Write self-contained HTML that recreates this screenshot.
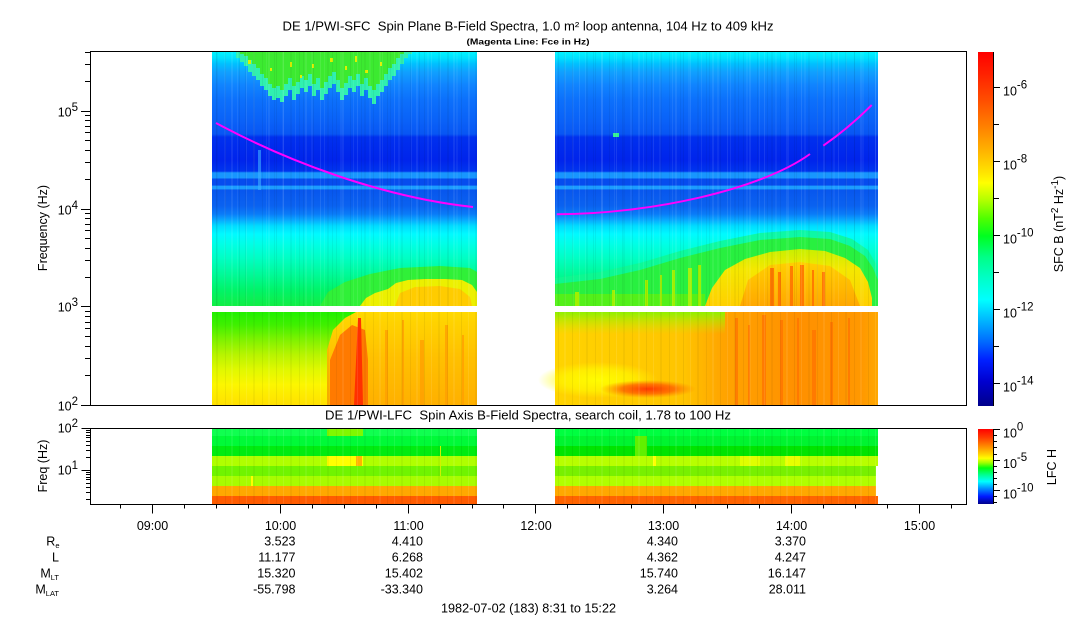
<!DOCTYPE html>
<html><head><meta charset="utf-8"><style>html,body{margin:0;padding:0;background:#fff;overflow:hidden}svg{display:block}</style></head>
<body>
<svg xmlns="http://www.w3.org/2000/svg" width="1083" height="620" viewBox="0 0 1083 620" font-family="'Liberation Sans', Arial, sans-serif" font-size="12.5" fill="#000">
<defs>
 <linearGradient id="bgU" gradientUnits="userSpaceOnUse" x1="0" y1="52" x2="0" y2="306">
  <stop offset="0" stop-color="#00f4ff"/>
  <stop offset=".024" stop-color="#00e0ff"/>
  <stop offset=".047" stop-color="#00c0ff"/>
  <stop offset=".079" stop-color="#10a0ff"/>
  <stop offset=".130" stop-color="#1084ff"/>
  <stop offset=".189" stop-color="#0c70fc"/>
  <stop offset=".268" stop-color="#0a62f8"/>
  <stop offset=".323" stop-color="#0856f4"/>
  <stop offset=".335" stop-color="#0030ee"/>
  <stop offset=".425" stop-color="#0024ec"/>
  <stop offset=".469" stop-color="#0034ee"/>
  <stop offset=".476" stop-color="#1896fe"/>
  <stop offset=".496" stop-color="#1896fe"/>
  <stop offset=".500" stop-color="#064cee"/>
  <stop offset=".524" stop-color="#064cee"/>
  <stop offset=".528" stop-color="#1c9cff"/>
  <stop offset=".539" stop-color="#1c9cff"/>
  <stop offset=".543" stop-color="#0856ee"/>
  <stop offset=".606" stop-color="#0a62f0"/>
  <stop offset=".638" stop-color="#0a7cf8"/>
  <stop offset=".661" stop-color="#08a8ff"/>
  <stop offset=".685" stop-color="#00dcff"/>
  <stop offset=".717" stop-color="#00faff"/>
  <stop offset=".756" stop-color="#00ffe6"/>
  <stop offset=".811" stop-color="#00ffc4"/>
  <stop offset=".874" stop-color="#00fa98"/>
  <stop offset=".937" stop-color="#00f468"/>
  <stop offset="1" stop-color="#10ee44"/>
 </linearGradient>
 <linearGradient id="lowL" gradientUnits="userSpaceOnUse" x1="0" y1="312" x2="0" y2="405">
  <stop offset="0" stop-color="#20f000"/>
  <stop offset=".14" stop-color="#40f000"/>
  <stop offset=".30" stop-color="#80f200"/>
  <stop offset=".46" stop-color="#b8f400"/>
  <stop offset=".62" stop-color="#e0f800"/>
  <stop offset=".78" stop-color="#fcf600"/>
  <stop offset="1" stop-color="#ffe000"/>
 </linearGradient>
 <linearGradient id="lowR" gradientUnits="userSpaceOnUse" x1="0" y1="312" x2="0" y2="405">
  <stop offset="0" stop-color="#ffd800"/>
  <stop offset=".5" stop-color="#ffc000"/>
  <stop offset="1" stop-color="#ffb000"/>
 </linearGradient>
 <linearGradient id="low2" gradientUnits="userSpaceOnUse" x1="555" y1="0" x2="878" y2="0">
  <stop offset="0" stop-color="#ffd400"/>
  <stop offset=".40" stop-color="#ffc400"/>
  <stop offset=".52" stop-color="#ffa400"/>
  <stop offset=".75" stop-color="#ff9000"/>
  <stop offset=".95" stop-color="#ff9800"/>
  <stop offset="1" stop-color="#ffa800"/>
 </linearGradient>
 <linearGradient id="topG" gradientUnits="userSpaceOnUse" x1="0" y1="312" x2="0" y2="334">
  <stop offset="0" stop-color="#90f000" stop-opacity="1"/>
  <stop offset="1" stop-color="#c0f000" stop-opacity="0"/>
 </linearGradient>
 <radialGradient id="yel" cx=".5" cy=".5" r=".5">
  <stop offset="0" stop-color="#ffff00" stop-opacity=".95"/>
  <stop offset=".6" stop-color="#ffff00" stop-opacity=".6"/>
  <stop offset="1" stop-color="#ffff00" stop-opacity="0"/>
 </radialGradient>
 <radialGradient id="redp" cx=".5" cy=".5" r=".5">
  <stop offset="0" stop-color="#ff3800" stop-opacity="1"/>
  <stop offset=".55" stop-color="#ff6000" stop-opacity=".8"/>
  <stop offset="1" stop-color="#ff8000" stop-opacity="0"/>
 </radialGradient>
 <linearGradient id="domeY" gradientUnits="userSpaceOnUse" x1="0" y1="249" x2="0" y2="306">
  <stop offset="0" stop-color="#c8f000"/>
  <stop offset=".35" stop-color="#f4e800"/>
  <stop offset="1" stop-color="#ffd000"/>
 </linearGradient>
 <linearGradient id="domeO" gradientUnits="userSpaceOnUse" x1="0" y1="262" x2="0" y2="306">
  <stop offset="0" stop-color="#ffd000"/>
  <stop offset="1" stop-color="#ffa800"/>
 </linearGradient>
 <linearGradient id="cbS" gradientUnits="userSpaceOnUse" x1="0" y1="52" x2="0" y2="406">
  <stop offset="0" stop-color="#ff0000"/>
  <stop offset=".06" stop-color="#ff2000"/>
  <stop offset=".14" stop-color="#ff5000"/>
  <stop offset=".21" stop-color="#ff8000"/>
  <stop offset=".28" stop-color="#ffb400"/>
  <stop offset=".34" stop-color="#ffe400"/>
  <stop offset=".37" stop-color="#ffff00"/>
  <stop offset=".42" stop-color="#b0ff00"/>
  <stop offset=".47" stop-color="#50ff00"/>
  <stop offset=".52" stop-color="#00ff20"/>
  <stop offset=".58" stop-color="#00ff88"/>
  <stop offset=".64" stop-color="#00ffc8"/>
  <stop offset=".70" stop-color="#00ffff"/>
  <stop offset=".76" stop-color="#00b4ff"/>
  <stop offset=".82" stop-color="#0068ff"/>
  <stop offset=".87" stop-color="#0020ff"/>
  <stop offset=".93" stop-color="#0000d0"/>
  <stop offset="1" stop-color="#00008a"/>
 </linearGradient>
 <linearGradient id="cbL" gradientUnits="userSpaceOnUse" x1="0" y1="429" x2="0" y2="504">
  <stop offset="0" stop-color="#ff0000"/>
  <stop offset=".12" stop-color="#ff4000"/>
  <stop offset=".24" stop-color="#ff9000"/>
  <stop offset=".34" stop-color="#ffd800"/>
  <stop offset=".39" stop-color="#ffff00"/>
  <stop offset=".45" stop-color="#a0ff00"/>
  <stop offset=".52" stop-color="#00ff10"/>
  <stop offset=".61" stop-color="#00ff90"/>
  <stop offset=".70" stop-color="#00ffff"/>
  <stop offset=".80" stop-color="#0088ff"/>
  <stop offset=".90" stop-color="#0018ff"/>
  <stop offset="1" stop-color="#00008a"/>
 </linearGradient>
 <pattern id="str" width="37" height="10" patternUnits="userSpaceOnUse">
  <rect x="3" y="0" width="1" height="10" fill="#000" opacity=".05"/>
  <rect x="9" y="0" width="2" height="10" fill="#fff" opacity=".07"/>
  <rect x="17" y="0" width="1" height="10" fill="#000" opacity=".06"/>
  <rect x="24" y="0" width="1" height="10" fill="#fff" opacity=".09"/>
  <rect x="31" y="0" width="2" height="10" fill="#000" opacity=".04"/>
 </pattern>
 <pattern id="str2" width="29" height="10" patternUnits="userSpaceOnUse">
  <rect x="5" y="0" width="1" height="10" fill="#fff" opacity=".07"/>
  <rect x="13" y="0" width="1" height="10" fill="#000" opacity=".05"/>
  <rect x="21" y="0" width="2" height="10" fill="#fff" opacity=".05"/>
 </pattern>
</defs>

<!-- Titles -->
<text x="528" y="30.5" text-anchor="middle" textLength="491" lengthAdjust="spacingAndGlyphs">DE 1/PWI-SFC&#160; Spin Plane B-Field Spectra, 1.0 m² loop antenna, 104 Hz to 409 kHz</text>
<text x="528" y="44.5" text-anchor="middle" font-size="8" font-weight="bold" textLength="123" lengthAdjust="spacingAndGlyphs">(Magenta Line: Fce in Hz)</text>
<text x="528" y="419.5" text-anchor="middle" textLength="406" lengthAdjust="spacingAndGlyphs">DE 1/PWI-LFC&#160; Spin Axis B-Field Spectra, search coil, 1.78 to 100 Hz</text>

<!-- ===== Main spectrogram segment 1 ===== -->
<rect x="212" y="52" width="265" height="254" fill="url(#bgU)"/>
<path d="M236,52 V58 H240 V62 H244 V66 H248 V72 H252 V76 H256 V80 H260 V86 H264 V90 H268 V96 H272 V100 H276 V98 H280 V102 H284 V96 H288 V90 H292 V100 H296 V94 H300 V88 H304 V92 H308 V86 H312 V96 H316 V90 H320 V100 H324 V94 H328 V88 H332 V84 H336 V92 H340 V100 H344 V95 H348 V88 H352 V92 H356 V86 H360 V96 H364 V90 H368 V98 H372 V104 H376 V96 H380 V92 H384 V86 H388 V80 H392 V76 H396 V70 H400 V64 H404 V58 H408 V54 H412 V52 Z" fill="#30f0b0"/>
<path d="M240,52 V54 H244 V56 H248 V60 H252 V64 H256 V68 H260 V74 H264 V78 H268 V84 H272 V88 H276 V86 H280 V90 H284 V84 H288 V78 H292 V86 H296 V82 H300 V76 H304 V80 H308 V74 H312 V84 H316 V78 H320 V88 H324 V82 H328 V76 H332 V72 H336 V80 H340 V88 H344 V83 H348 V76 H352 V80 H356 V74 H360 V84 H364 V78 H368 V86 H372 V90 H376 V84 H380 V80 H384 V74 H388 V68 H392 V64 H396 V58 H400 V54 H404 V52 Z" fill="#3cea30"/>
<g fill="#e0f000">
 <rect x="248" y="60" width="3" height="4"/><rect x="290" y="62" width="2" height="5"/>
 <rect x="330" y="58" width="3" height="4"/><rect x="355" y="56" width="2" height="6"/>
 <rect x="365" y="70" width="3" height="3"/><rect x="300" y="75" width="2" height="3"/>
 <rect x="345" y="66" width="2" height="4"/><rect x="270" y="68" width="2" height="3"/>
 <rect x="380" y="62" width="2" height="4"/><rect x="312" y="64" width="2" height="4"/>
</g>
<rect x="258" y="150" width="3" height="40" fill="#40b0ff" opacity=".6"/>
<path d="M320,306 L328,292 L345,282 L370,274 L400,268 L440,266 L470,268 L477,272 L477,306 Z" fill="#30f038"/>
<path d="M360,306 L366,298 L375,293 L388,289 L396,283 L408,280 L425,279 L445,279 L462,280 L472,285 L477,292 L477,306 Z" fill="#ecf000"/>
<path d="M395,306 L400,293 L415,287 L440,286 L460,289 L470,297 L472,306 Z" fill="#ffcc00"/>
<!-- lower part seg1 -->
<rect x="212" y="312" width="265" height="93" fill="url(#lowL)"/>
<path d="M356,312 L477,312 L477,405 L327,405 L327,350 L333,330 L345,318 Z" fill="url(#lowR)"/>
<path d="M330,405 L330,360 L340,335 L352,325 L365,330 L368,360 L368,405 Z" fill="#ff7a00"/>
<path d="M358,318 L361,318 L363,405 L354,405 Z" fill="#ff3000"/>
<g fill="#ffa000" opacity=".8">
 <rect x="385" y="330" width="3" height="75"/><rect x="402" y="320" width="2" height="85"/>
 <rect x="420" y="340" width="4" height="65"/><rect x="445" y="325" width="3" height="80"/>
 <rect x="462" y="335" width="2" height="70"/>
</g>
<rect x="212" y="52" width="265" height="254" fill="url(#str)"/>
<rect x="212" y="52" width="265" height="254" fill="url(#str2)"/>
<rect x="212" y="312" width="265" height="93" fill="url(#str)"/>

<!-- ===== Main spectrogram segment 2 ===== -->
<rect x="555" y="52" width="323" height="254" fill="url(#bgU)"/>
<rect x="613" y="133" width="6" height="4" fill="#30f090"/>
<path d="M555,306 L555,278 L600,272 L640,263 L680,251 L720,241 L760,233 L800,230 L830,232 L852,239 L868,250 L876,264 L878,276 L878,306 Z" fill="#10f890" opacity=".8"/>
<path d="M555,306 L555,284 L600,279 L640,270 L680,258 L720,248 L760,240 L800,237 L830,239 L850,246 L865,256 L873,268 L878,280 L878,306 Z" fill="#28f040"/>
<rect x="555" y="294" width="150" height="12" fill="#70f000" opacity=".6"/>
<g fill="#a0f000">
 <rect x="645" y="280" width="3" height="26"/><rect x="660" y="275" width="2" height="31"/>
 <rect x="672" y="270" width="3" height="36"/><rect x="688" y="268" width="4" height="38"/>
 <rect x="698" y="265" width="3" height="41"/><rect x="575" y="292" width="4" height="14"/>
 <rect x="612" y="290" width="3" height="16"/>
</g>
<path d="M705,306 L712,288 L725,270 L745,259 L770,252 L800,249 L825,251 L845,258 L860,268 L868,282 L872,298 L872,306 Z" fill="url(#domeY)"/>
<path d="M740,306 L748,280 L770,265 L800,262 L830,266 L850,280 L860,306 Z" fill="url(#domeO)"/>
<g fill="#ff7400" opacity=".9">
 <rect x="770" y="268" width="4" height="38"/><rect x="778" y="272" width="3" height="34"/>
 <rect x="790" y="266" width="3" height="40"/><rect x="800" y="265" width="4" height="41"/>
 <rect x="812" y="270" width="2" height="36"/><rect x="822" y="272" width="3" height="34"/>
</g>
<!-- lower part seg2 -->
<rect x="555" y="312" width="323" height="93" fill="url(#low2)"/>
<rect x="555" y="312" width="170" height="22" fill="url(#topG)"/>
<ellipse cx="598" cy="380" rx="60" ry="18" fill="url(#yel)"/>
<ellipse cx="648" cy="389" rx="48" ry="9" fill="url(#redp)"/>
<g fill="#ff7000" opacity=".7">
 <rect x="735" y="318" width="3" height="87"/><rect x="748" y="325" width="2" height="80"/>
 <rect x="762" y="315" width="4" height="90"/><rect x="780" y="320" width="3" height="85"/>
 <rect x="797" y="318" width="2" height="87"/><rect x="812" y="330" width="4" height="75"/>
 <rect x="830" y="322" width="3" height="83"/><rect x="848" y="318" width="2" height="87"/>
</g>
<rect x="555" y="52" width="323" height="254" fill="url(#str)"/>
<rect x="555" y="52" width="323" height="254" fill="url(#str2)"/>
<rect x="555" y="312" width="323" height="93" fill="url(#str)"/>

<!-- magenta Fce lines -->
<path d="M216,123 C285,160 380,197 473,207" fill="none" stroke="#ff00ff" stroke-width="2"/>
<path d="M556.7,214.3 C650,214 760,190 810,154" fill="none" stroke="#ff00ff" stroke-width="2"/>
<path d="M823.3,145.7 Q850,127 871.7,105" fill="none" stroke="#ff00ff" stroke-width="2"/>

<!-- ===== Lower panel bands ===== -->
<g>
 <rect x="212" y="428.5" width="265" height="7.5" fill="#10ff50"/>
 <rect x="212" y="436" width="265" height="10" fill="#00fa38"/>
 <rect x="212" y="446" width="265" height="10" fill="#00ec10"/>
 <rect x="212" y="456" width="265" height="10" fill="#b0ff00"/>
 <rect x="212" y="466" width="265" height="10" fill="#70f400"/>
 <rect x="212" y="476" width="265" height="10" fill="#a8fc00"/>
 <rect x="212" y="486" width="265" height="10" fill="#ffa800"/>
 <rect x="212" y="496" width="265" height="8" fill="#ff5c00"/>
 <rect x="327" y="428.5" width="36" height="7.5" fill="#80f800"/>
 <rect x="327" y="456" width="36" height="10" fill="#ffff00"/>
 <rect x="356" y="456" width="6" height="10" fill="#ffb400"/>
 <rect x="251" y="476" width="2" height="10" fill="#ffff00"/>
 <rect x="440" y="446" width="1" height="30" fill="#d0f000"/>
</g>
<g>
 <rect x="555" y="428.5" width="323" height="7.5" fill="#00ff40"/>
 <rect x="555" y="436" width="323" height="10" fill="#00f430"/>
 <rect x="555" y="446" width="323" height="10" fill="#00e400"/>
 <rect x="555" y="456" width="323" height="10" fill="#b8ff00"/>
 <rect x="555" y="466" width="321" height="10" fill="#78f000"/>
 <rect x="555" y="476" width="321" height="10" fill="#b0ff00"/>
 <rect x="555" y="486" width="321" height="10" fill="#ffa800"/>
 <rect x="555" y="496" width="323" height="8" fill="#ff6400"/>
 <rect x="635" y="436" width="12" height="20" fill="#60f000"/>
 <rect x="653" y="456" width="3" height="10" fill="#ffff00"/>
 <rect x="740" y="456" width="20" height="10" fill="#e0ff00"/>
 <rect x="785" y="456" width="15" height="10" fill="#e8ff00"/>
</g>
<rect x="212" y="428.5" width="265" height="75.5" fill="url(#str)"/>
<rect x="555" y="428.5" width="323" height="75.5" fill="url(#str)"/>

<!-- ===== Frames ===== -->
<rect x="90.5" y="51.5" width="876" height="354" fill="none" stroke="#000" stroke-width="1"/>
<rect x="90.5" y="428.5" width="876" height="76" fill="none" stroke="#000" stroke-width="1"/>

<!-- Main y ticks -->
<path stroke="#000" stroke-width="1" fill="none" d="
M81,405.5H90 M81,306.5H90 M81,209.5H90 M81,111.5H90
M85,375.5H90 M85,358.5H90 M85,346.5H90 M85,336.5H90 M85,328.5H90 M85,322.5H90 M85,316.5H90 M85,311.5H90
M85,277.5H90 M85,260.5H90 M85,248.5H90 M85,238.5H90 M85,230.5H90 M85,224.5H90 M85,218.5H90 M85,213.5H90
M85,179.5H90 M85,162.5H90 M85,150.5H90 M85,140.5H90 M85,132.5H90 M85,126.5H90 M85,120.5H90 M85,115.5H90
M85,81.5H90 M85,64.5H90 M85,52.5H90"/>
<g text-anchor="end">
 <text x="78" y="410.5">10<tspan dy="-5.5" font-size="11.5">2</tspan></text>
 <text x="78" y="311.5">10<tspan dy="-5.5" font-size="11.5">3</tspan></text>
 <text x="78" y="214.5">10<tspan dy="-5.5" font-size="11.5">4</tspan></text>
 <text x="78" y="116.5">10<tspan dy="-5.5" font-size="11.5">5</tspan></text>
</g>
<text transform="translate(47,228) rotate(-90)" text-anchor="middle">Frequency (Hz)</text>

<!-- Lower y ticks -->
<path stroke="#000" stroke-width="1" fill="none" d="
M81.5,428.5H90 M81.5,470.5H90
M86,457.5H90 M86,450.5H90 M86,445.5H90 M86,441.5H90 M86,437.5H90 M86,435.5H90 M86,432.5H90 M86,430.5H90
M86,499.5H90 M86,492.5H90 M86,487.5H90 M86,483.5H90 M86,479.5H90 M86,477.5H90 M86,474.5H90 M86,472.5H90"/>
<g text-anchor="end">
 <text x="78" y="432.5">10<tspan dy="-5.5" font-size="11.5">2</tspan></text>
 <text x="78" y="474.5">10<tspan dy="-5.5" font-size="11.5">1</tspan></text>
</g>
<text transform="translate(47,466) rotate(-90)" text-anchor="middle">Freq (Hz)</text>

<!-- Time ticks -->
<path stroke="#000" stroke-width="1" fill="none" d="
M152.5,504V513.5 M280.5,504V513.5 M408.5,504V513.5 M535.5,504V513.5 M663.5,504V513.5 M791.5,504V513.5 M919.5,504V513.5
M120.5,504V508.5 M184.5,504V508.5 M216.5,504V508.5 M248.5,504V508.5 M312.5,504V508.5 M344.5,504V508.5 M376.5,504V508.5
M440.5,504V508.5 M472.5,504V508.5 M503.5,504V508.5 M567.5,504V508.5 M599.5,504V508.5 M631.5,504V508.5 M695.5,504V508.5
M727.5,504V508.5 M759.5,504V508.5 M823.5,504V508.5 M855.5,504V508.5 M887.5,504V508.5 M951.5,504V508.5"/>
<g text-anchor="middle">
 <text x="152.5" y="530">09:00</text>
 <text x="280.5" y="530">10:00</text>
 <text x="408.5" y="530">11:00</text>
 <text x="536" y="530">12:00</text>
 <text x="663.5" y="530">13:00</text>
 <text x="791.5" y="530">14:00</text>
 <text x="919.5" y="530">15:00</text>
</g>

<!-- Ephemeris labels -->
<g text-anchor="end">
 <text x="59.5" y="545.7">R<tspan font-size="7.5" dy="2.5">e</tspan></text>
 <text x="59" y="561.5">L</text>
 <text x="59" y="577.5">M<tspan font-size="7.5" dy="2.5">LT</tspan></text>
 <text x="59" y="593.3">M<tspan font-size="7.5" dy="2.5">LAT</tspan></text>
</g>
<g text-anchor="end">
 <text x="295.5" y="545.7">3.523</text>
 <text x="295.5" y="561.5">11.177</text>
 <text x="295.5" y="577.5">15.320</text>
 <text x="295.5" y="593.3">-55.798</text>
 <text x="423" y="545.7">4.410</text>
 <text x="423" y="561.5">6.268</text>
 <text x="423" y="577.5">15.402</text>
 <text x="423" y="593.3">-33.340</text>
 <text x="678" y="545.7">4.340</text>
 <text x="678" y="561.5">4.362</text>
 <text x="678" y="577.5">15.740</text>
 <text x="678" y="593.3">3.264</text>
 <text x="806" y="545.7">3.370</text>
 <text x="806" y="561.5">4.247</text>
 <text x="806" y="577.5">16.147</text>
 <text x="806" y="593.3">28.011</text>
</g>
<text x="528.5" y="612.5" text-anchor="middle" textLength="175" lengthAdjust="spacingAndGlyphs">1982-07-02 (183) 8:31 to 15:22</text>

<!-- ===== Colorbars ===== -->
<rect x="978" y="52" width="15" height="354" fill="url(#cbS)"/>
<path stroke="#000" stroke-width="1" fill="none" d="M993.5,52V406
M993,87.5H1000 M993,161.5H1000 M993,235.5H1000 M993,309.5H1000 M993,383.5H1000
M993,124.5H999 M993,198.5H999 M993,272.5H999 M993,346.5H999"/>
<g>
 <text x="1003" y="95.5">10<tspan dy="-7" font-size="11.5">-6</tspan></text>
 <text x="1003" y="169.5">10<tspan dy="-7" font-size="11.5">-8</tspan></text>
 <text x="1003" y="243.5">10<tspan dy="-7" font-size="11.5">-10</tspan></text>
 <text x="1003" y="317.5">10<tspan dy="-7" font-size="11.5">-12</tspan></text>
 <text x="1003" y="391.5">10<tspan dy="-7" font-size="11.5">-14</tspan></text>
</g>
<text transform="translate(1063,224) rotate(-90)" text-anchor="middle">SFC B (nT<tspan dy="-5" font-size="10">2</tspan><tspan dy="5"> Hz</tspan><tspan dy="-5" font-size="10">-1</tspan><tspan dy="5">)</tspan></text>

<rect x="978" y="429" width="15" height="75" fill="url(#cbL)"/>
<path stroke="#000" stroke-width="1" fill="none" d="M993.5,429V504
M993,429.5H1000 M993,460.5H1000 M993,490.5H1000
M993,435.5H997 M993,441.5H997 M993,447.5H997 M993,454.5H997
M993,466.5H997 M993,472.5H997 M993,478.5H997 M993,484.5H997
M993,496.5H997 M993,502.5H997"/>
<g>
 <text x="1003" y="437.5">10<tspan dy="-7" font-size="11.5">0</tspan></text>
 <text x="1003" y="468">10<tspan dy="-7" font-size="11.5">-5</tspan></text>
 <text x="1003" y="498.5">10<tspan dy="-7" font-size="11.5">-10</tspan></text>
</g>
<text transform="translate(1056,467) rotate(-90)" text-anchor="middle">LFC H</text>
</svg>
</body></html>
